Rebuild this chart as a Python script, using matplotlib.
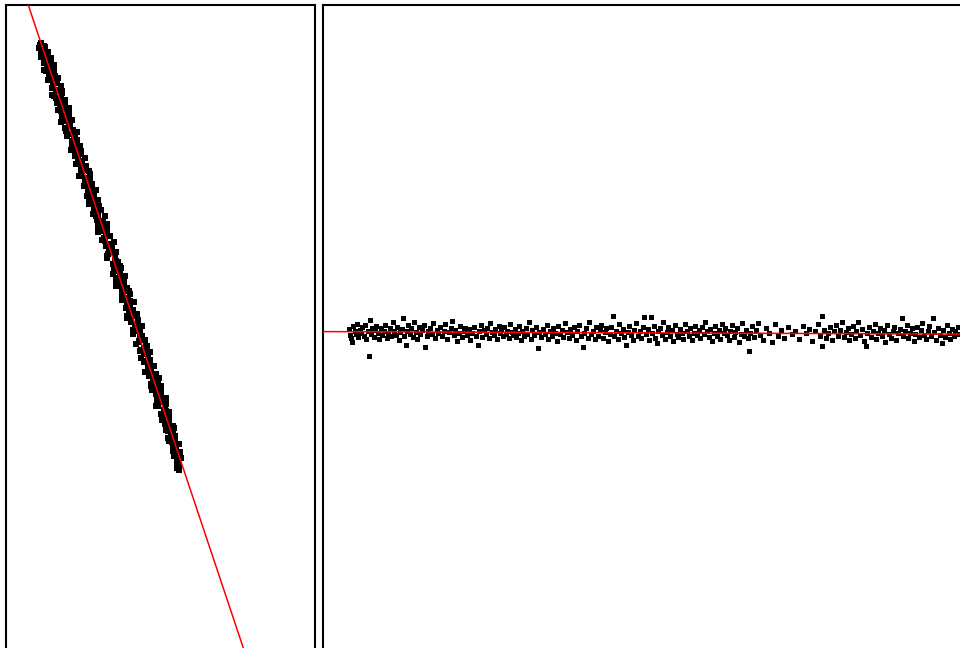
import matplotlib
matplotlib.use("Agg")
import matplotlib.pyplot as plt

# ---- Left panel: observed points and fitted line ----
left_y = [43, 45, 47, 48, 50, 52, 53, 55, 57, 58, 60, 62, 63, 65, 66, 68, 70, 71, 73, 75,
          76, 78, 80, 81, 83, 85, 86, 88, 90, 91, 93, 95, 96, 98, 100, 101, 103, 105, 106, 108,
          110, 112, 114, 116, 118, 120, 122, 124, 126, 128, 130, 132, 134, 136, 138, 140, 142, 144, 146, 148,
          150, 152, 154, 156, 158, 160, 162, 164, 166, 168, 170, 172, 174, 176, 178, 180, 182, 184, 186, 188,
          190, 192, 194, 196, 198, 200, 202, 204, 206, 208, 210, 212, 214, 216, 218, 220, 222, 224, 226, 228,
          230, 232, 234, 236, 238, 240, 242, 244, 246, 248, 250, 252, 254, 256, 258, 260, 262, 264, 266, 268,
          270, 272, 274, 276, 278, 280, 282, 284, 286, 288, 290, 292, 294, 296, 298, 300, 302, 304, 306, 308,
          310, 312, 314, 316, 318, 320, 322, 324, 326, 328, 330, 332, 334, 336, 338, 340, 342, 344, 346, 348,
          350, 352, 354, 356, 358, 360, 362, 364, 366, 368, 370, 372, 374, 376, 378, 380, 382, 384, 386, 388,
          390, 392, 394, 396, 398, 400, 402, 404, 406, 408, 410, 412, 414, 416, 418, 420, 422, 424, 426, 428,
          430, 432, 434, 436, 438, 440, 442, 444, 446, 448, 450, 452, 454, 456, 458, 460, 462, 464, 466, 468, 470]
left_x = [41, 40, 45, 39, 44, 48, 41, 47, 41, 51, 46, 50, 44, 54, 47, 50, 44, 54, 50, 54,
          49, 58, 48, 54, 57, 53, 61, 52, 58, 56, 62, 52, 61, 56, 65, 60, 57, 65, 60, 69,
          58, 65, 69, 62, 65, 72, 61, 70, 69, 65, 73, 77, 69, 67, 74, 77, 73, 72, 80, 78,
          71, 77, 81, 75, 85, 78, 82, 76, 86, 82, 85, 81, 90, 79, 86, 90, 85, 92, 84, 90,
          96, 88, 90, 94, 89, 98, 94, 89, 98, 94, 101, 98, 93, 105, 98, 97, 103, 107, 98, 103,
          107, 98, 106, 110, 104, 102, 114, 108, 106, 112, 109, 116, 108, 115, 107, 115, 118, 113, 116, 121,
          114, 120, 113, 125, 119, 116, 124, 123, 116, 127, 124, 122, 130, 123, 128, 122, 134, 127, 130, 126,
          133, 129, 137, 132, 127, 138, 131, 136, 142, 135, 133, 140, 133, 142, 140, 145, 139, 136, 146, 144,
          141, 150, 144, 148, 141, 150, 144, 148, 154, 148, 151, 145, 156, 149, 159, 153, 156, 151, 161, 156,
          152, 161, 156, 160, 166, 157, 160, 166, 156, 165, 164, 169, 161, 169, 164, 162, 169, 165, 168, 174,
          166, 173, 171, 175, 168, 175, 172, 179, 173, 176, 173, 180, 176, 174, 181, 177, 179, 177, 179, 177, 179]
left_y2 = [46, 51, 56, 61, 66, 71, 76, 81, 86, 91, 96, 101, 106, 111, 116, 121, 126, 131, 136, 141,
           146, 151, 156, 161, 166, 171, 176, 181, 186, 191, 196, 201, 206, 211, 216, 221, 226, 231, 236, 241,
           246, 251, 256, 261, 266, 271, 276, 281, 286, 291, 296, 301, 306, 311, 316, 321, 326, 331, 336, 341,
           346, 351, 356, 361, 366, 371, 376, 381, 386, 391, 396, 401, 406, 411, 416, 421, 426, 431, 436, 441,
           446, 451, 456, 461, 466]
left_x2 = [44, 41, 45, 51, 48, 46, 55, 55, 53, 62, 54, 60, 64, 61, 69, 66, 70, 66, 75, 72,
           75, 81, 76, 81, 81, 89, 81, 89, 87, 93, 87, 95, 99, 96, 96, 103, 102, 100, 110, 105,
           112, 110, 107, 116, 120, 114, 120, 121, 120, 129, 122, 130, 128, 133, 127, 138, 136, 134, 140, 139,
           147, 140, 148, 146, 152, 148, 152, 158, 151, 158, 157, 164, 158, 166, 166, 166, 173, 168, 173, 169,
           174, 173, 178, 178, 178]
left_fit_intercept = -79.5
left_fit_slope = 2.99

# ---- Right panel: residual-like scatter around a near-flat line ----
right_x = [349, 350, 351, 352, 353, 355, 356, 357, 358, 360, 361, 362, 364, 365, 366, 368, 369, 370, 371, 372,
           374, 375, 376, 378, 379, 381, 382, 384, 385, 387, 388, 390, 391, 393, 394, 396, 397, 399, 400, 402,
           403, 404, 406, 407, 408, 410, 411, 413, 414, 416, 417, 419, 420, 422, 424, 425, 427, 428, 430, 432,
           433, 435, 437, 438, 440, 442, 444, 445, 447, 449, 451, 452, 454, 455, 457, 459, 460, 462, 464, 465,
           467, 469, 470, 472, 474, 476, 478, 479, 481, 482, 484, 486, 487, 489, 490, 492, 494, 495, 497, 499,
           500, 501, 503, 504, 506, 507, 509, 510, 512, 513, 515, 516, 518, 519, 521, 522, 524, 526, 527, 529,
           531, 532, 534, 536, 538, 539, 541, 543, 545, 547, 548, 550, 552, 553, 555, 557, 558, 560, 562, 563,
           565, 567, 569, 570, 572, 574, 576, 577, 579, 581, 583, 584, 586, 588, 589, 591, 593, 595, 596, 598,
           600, 601, 603, 605, 606, 608, 610, 611, 613, 614, 616, 618, 619, 621, 623, 624, 626, 628, 629, 631,
           633, 634, 636, 638, 640, 641, 643, 644, 646, 648, 649, 651, 652, 654, 655, 657, 658, 660, 662, 663,
           665, 667, 668, 670, 672, 673, 675, 677, 678, 680, 682, 683, 685, 687, 689, 690, 692, 694, 695, 697,
           699, 700, 702, 704, 705, 707, 709, 710, 712, 714, 715, 717, 719, 720, 722, 724, 725, 727, 729, 730,
           732, 734, 735, 737, 739, 741, 742, 744, 746, 748, 749, 750, 752, 754, 756, 758, 760, 763, 766, 769,
           772, 775, 778, 781, 784, 788, 792, 795, 799, 803, 806, 809, 812, 815, 818, 820, 822, 822, 824, 826,
           828, 830, 832, 834, 836, 838, 840, 842, 844, 846, 848, 849, 851, 853, 855, 856, 858, 860, 862, 864,
           866, 867, 869, 871, 873, 875, 876, 878, 880, 882, 884, 885, 887, 889, 891, 893, 894, 896, 898, 900,
           902, 903, 905, 907, 908, 910, 912, 914, 915, 917, 919, 921, 922, 924, 926, 928, 929, 931, 933, 934,
           936, 938, 940, 942, 943, 945, 947, 949, 950, 952, 954, 955, 957, 958]
right_y = [329, 335, 338, 342, 326, 331, 334, 324, 337, 330, 333, 327, 336, 325, 339, 331, 356, 320, 334, 328,
           337, 330, 326, 333, 339, 328, 335, 331, 325, 338, 333, 328, 336, 322, 331, 335, 327, 340, 332, 329,
           318, 336, 345, 331, 325, 334, 328, 337, 322, 332, 339, 327, 334, 330, 325, 347, 336, 331, 328, 334,
           323, 338, 330, 333, 327, 336, 331, 324, 339, 332, 328, 321, 335, 330, 341, 333, 326, 337, 331, 328,
           335, 329, 340, 333, 327, 336, 345, 331, 325, 337, 330, 334, 328, 338, 323, 332, 335, 329, 339, 326,
           333, 330, 336, 327, 334, 331, 338, 324, 332, 335, 329, 337, 333, 326, 340, 331, 336, 328, 334, 322,
           339, 330, 335, 327, 348, 332, 337, 329, 334, 325, 339, 331, 336, 328, 333, 341, 326, 334, 330, 337,
           323, 332, 338, 329, 335, 327, 340, 331, 325, 336, 347, 333, 328, 338, 322, 334, 331, 339, 327, 336,
           330, 325, 338, 332, 328, 341, 334, 327, 316, 336, 331, 339, 324, 333, 329, 337, 345, 332, 326, 335,
           340, 330, 323, 336, 331, 338, 327, 317, 334, 329, 340, 317, 333, 326, 338, 343, 331, 328, 335, 322,
           339, 332, 327, 336, 330, 341, 325, 334, 337, 329, 333, 339, 324, 331, 336, 328, 340, 333, 326, 335,
           330, 338, 327, 334, 322, 331, 337, 329, 341, 333, 326, 336, 330, 339, 324, 333, 328, 335, 340, 331,
           325, 337, 332, 328, 342, 334, 323, 336, 330, 338, 351, 333, 326, 337, 330, 323, 335, 340, 328, 333,
           342, 324, 336, 330, 338, 327, 334, 331, 339, 326, 333, 329, 341, 331, 324, 336, 316, 346, 330, 338,
           333, 327, 340, 331, 325, 336, 330, 322, 337, 332, 328, 340, 334, 326, 338, 331, 322, 335, 329, 341,
           346, 333, 327, 337, 331, 324, 339, 333, 328, 336, 330, 342, 325, 334, 338, 331, 327, 340, 333, 329,
           318, 336, 331, 325, 338, 333, 328, 341, 334, 327, 337, 330, 323, 335, 339, 331, 326, 336, 318, 332,
           340, 328, 335, 343, 330, 337, 325, 333, 339, 329, 336, 331, 334, 327]
right_fit_intercept = 330.34
right_fit_slope = 0.0039

W, H = 960, 648
fig = plt.figure(figsize=(W / 100, H / 100), dpi=100)
fig.patch.set_facecolor("white")

top_px = 5.3
bottom_px = 680
axL = fig.add_axes([6.2 / W, 1 - bottom_px / H, (315 - 6.2) / W, (bottom_px - top_px) / H])
axR = fig.add_axes([322.5 / W, 1 - bottom_px / H, (1000 - 322.5) / W, (bottom_px - top_px) / H])

for ax, xl in ((axL, (6.2, 315)), (axR, (322.5, 1000))):
    ax.set_xlim(*xl)
    ax.set_ylim(bottom_px, top_px)
    ax.set_xticks([])
    ax.set_yticks([])
    for s in ax.spines.values():
        s.set_linewidth(1.5)
        s.set_color("black")
    ax.set_facecolor("white")

mkL = dict(linestyle="none", marker="s", ms=3.8, mew=0, color="black", antialiased=True, zorder=2)
mkR = dict(linestyle="none", marker="s", ms=3.6, mew=0, color="black", antialiased=True, zorder=2)
axL.plot(left_x, left_y, **mkL)
axL.plot(left_x2, left_y2, **mkL)
axL.axline((0, left_fit_intercept), slope=left_fit_slope, color="red", lw=1.1, zorder=3)

axR.plot(right_x, right_y, **mkR)
axR.axline((0, right_fit_intercept), slope=right_fit_slope, color="red", lw=1.1, zorder=3)

fig.savefig("out.png", dpi=100)
